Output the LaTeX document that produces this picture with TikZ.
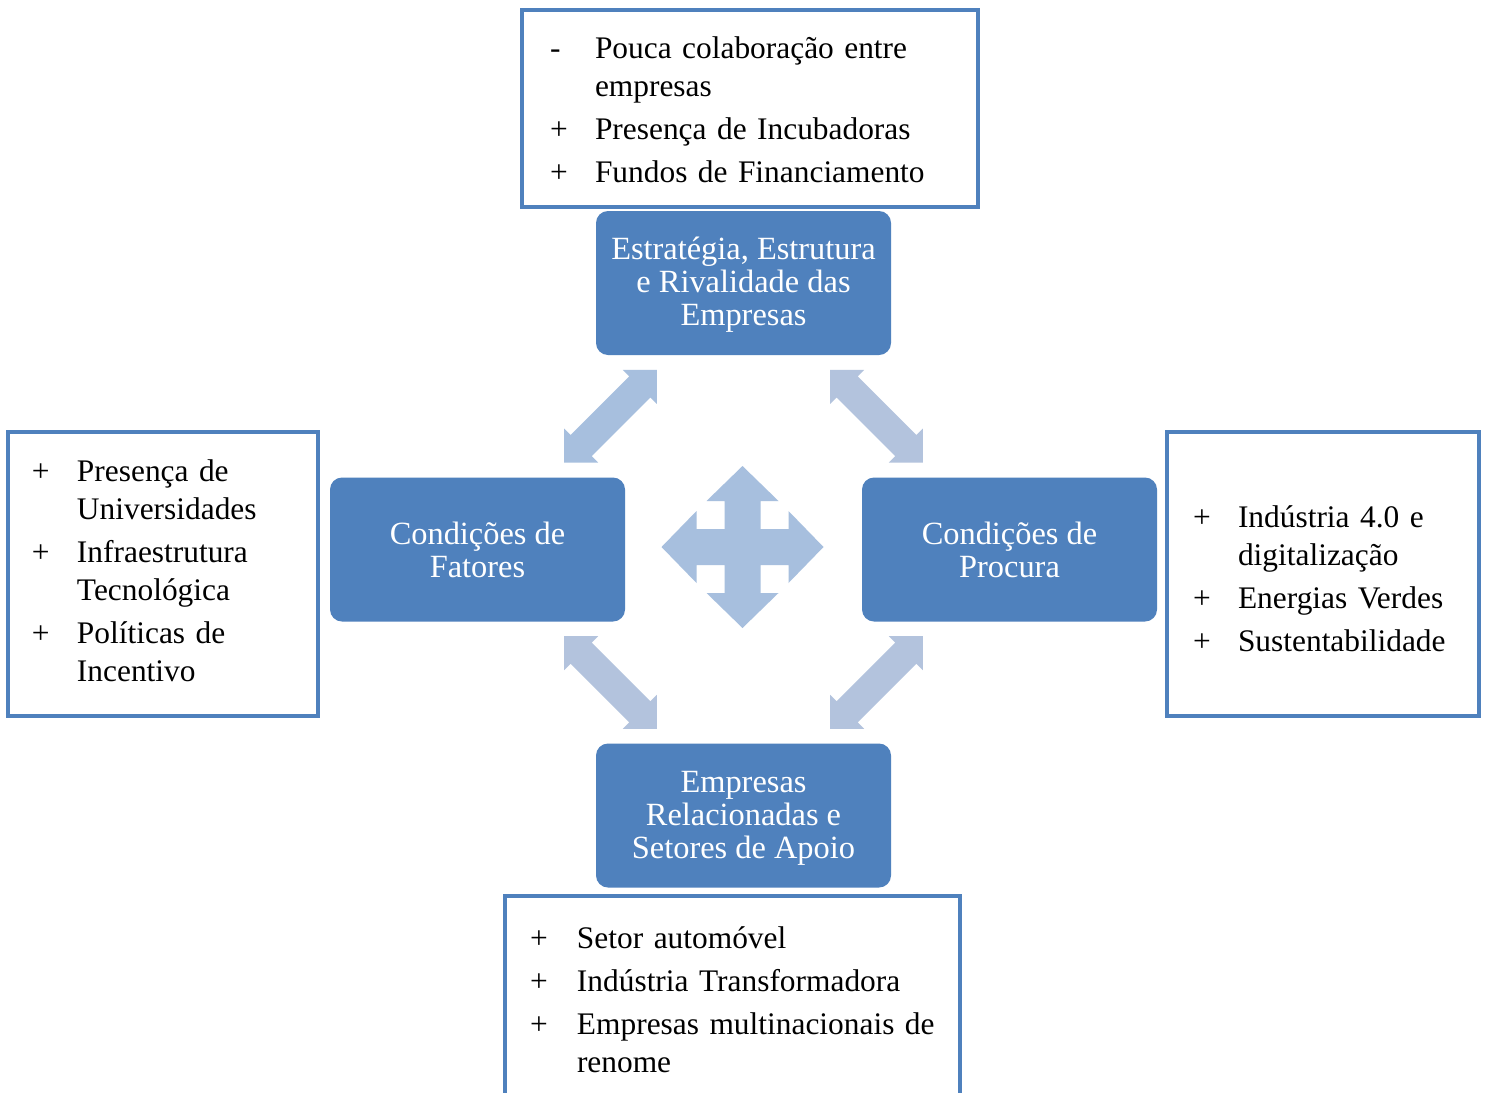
\documentclass[tikz,border=0pt]{standalone}
\usepackage{fontspec}
\setmainfont{Liberation Serif}
\usetikzlibrary{calc}
\definecolor{accent}{HTML}{4F81BD}
\definecolor{arrowA}{HTML}{A7BFDE}
\definecolor{arrowB}{HTML}{B3C3DD}
\newcommand\lowerby[2]{\raisebox{-#1}[\height][\depth]{#2}}
\begin{document}
\begin{tikzpicture}[x=0.5pt,y=-0.5pt,
  factor/.style={fill=accent, rounded corners=6pt, minimum width=147.5pt, minimum height=72pt,
    text=white, align=center, font=\fontsize{16.2}{16.5}\selectfont, inner sep=0pt},
  listbox/.style={draw=accent, line width=1.8pt, fill=white, align=left,
    font=\fontsize{15.7}{19}\selectfont, inner ysep=0pt},
  dblarrow/.pic={\path[pic actions] (-65.5,0) -- (-41.5,24) -- (-41.5,15) -- (41.5,15) -- (41.5,24)
    -- (65.5,0) -- (41.5,-24) -- (41.5,-15) -- (-41.5,-15) -- (-41.5,-24) -- cycle;},
  quadarrow/.pic={\path[pic actions] (0,-81) -- (36,-46) -- (18,-46) -- (18,-18) -- (46,-18) -- (46,-36)
    -- (81,0) -- (46,36) -- (46,18) -- (18,18) -- (18,46) -- (36,46) -- (0,81) -- (-36,46)
    -- (-18,46) -- (-18,18) -- (-46,18) -- (-46,36) -- (-81,0) -- (-46,-36) -- (-46,-18)
    -- (-18,-18) -- (-18,-46) -- (-36,-46) -- cycle;}
]
\useasboundingbox (0,0) rectangle (1488,1092);
\fill[white] (0,0) rectangle (1488,1092);
\clip (0,0) rectangle (1488,1092);

% four determinants
\node[factor] (rivalry) at (743.5,283) {\lowerby{1.5pt}{\begin{tabular}{@{}c@{}}Estratégia, Estrutura\\e Rivalidade das\\Empresas\end{tabular}}};
\node[factor] (fatores) at (477.5,549.5) {Condições de\\Fatores};
\node[factor] (procura) at (1009.5,549.5) {Condições de\\Procura};
\node[factor] (apoio) at (743.5,815.5) {\lowerby{1.5pt}{\begin{tabular}{@{}c@{}}Empresas\\Relacionadas e\\Setores de Apoio\end{tabular}}};

% list boxes
\node[listbox, inner xsep=14pt, text width=200pt, minimum height=98.5pt] (topbox) at (750,108.5)
 {\lowerby{2pt}{\begin{tabular}{@{}p{22.5pt}@{}l@{}}
  - & Pouca colaboração entre\\
    & empresas\\[2.5pt]
  + & Presença de Incubadoras\\[2.5pt]
  + & Fundos de Financiamento
  \end{tabular}}};
\node[listbox, inner xsep=12pt, text width=131pt, minimum height=142pt] (leftbox) at (163,574)
 {\begin{tabular}{@{}p{22.5pt}@{}l@{}}
  + & Presença de\\
    & Universidades\\[2.5pt]
  + & Infraestrutura\\
    & Tecnológica\\[2.5pt]
  + & Políticas de\\
    & Incentivo
  \end{tabular}};
\node[listbox, inner xsep=13pt, text width=130pt, minimum height=142pt] (rightbox) at (1323,574)
 {\lowerby{4pt}{\begin{tabular}{@{}p{22.5pt}@{}l@{}}
  + & Indústria 4.0 e\\
    & digitalização\\[2.5pt]
  + & Energias Verdes\\[2.5pt]
  + & Sustentabilidade
  \end{tabular}}};
\node[listbox, inner xsep=12.5pt, text width=202.5pt, minimum height=103pt] (bottombox) at (732.5,999)
 {\lowerby{2pt}{\begin{tabular}{@{}p{23.5pt}@{}l@{}}
  + & Setor automóvel\\[2.5pt]
  + & Indústria Transformadora\\[2.5pt]
  + & Empresas multinacionais de\\
    & renome
  \end{tabular}}};

% connectors between the determinants
\coordinate (ul) at ($(rivalry.south west)!0.5!(fatores.north east)$);
\coordinate (ur) at ($(rivalry.south east)!0.5!(procura.north west)$);
\coordinate (ll) at ($(fatores.south east)!0.5!(apoio.north west)$);
\coordinate (lr) at ($(procura.south west)!0.5!(apoio.north east)$);
\coordinate (mid) at ($(fatores.east)!0.5!(procura.west)$);

\pic[fill=arrowA, rotate=45] at (ul) {dblarrow};
\pic[fill=arrowB, rotate=-45] at (ur) {dblarrow};
\pic[fill=arrowB, rotate=-45] at (ll) {dblarrow};
\pic[fill=arrowB, rotate=45] at (lr) {dblarrow};
\pic[fill=arrowA] at ($(mid)+(-1,-2.5)$) {quadarrow};
\end{tikzpicture}
\end{document}
